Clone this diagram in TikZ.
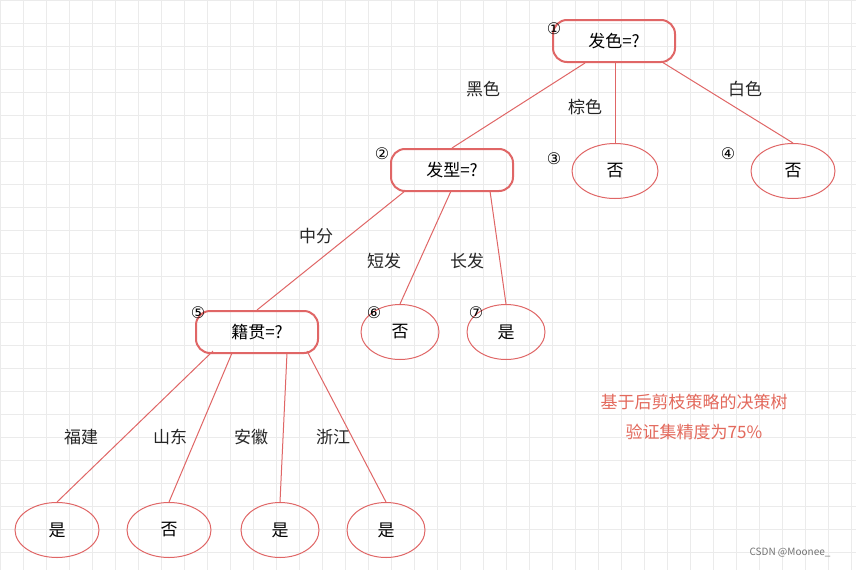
\documentclass[tikz,border=0pt]{standalone}
\usepackage{fontspec}
\setmainfont{Noto Sans CJK SC}
\newfontfamily\dv{DejaVu Sans}
\usetikzlibrary{shapes.geometric}
\definecolor{rd}{HTML}{E06666}
\begin{document}
\begin{tikzpicture}[x=1pt,y=-1pt,
 rbox/.style={draw=rd,line width=2pt,rounded corners=14pt,minimum width=122pt,minimum height=42pt,font=\fontsize{17}{17}\selectfont},
 ell/.style={draw=rd,line width=1pt,ellipse,minimum width=#1,minimum height=55pt,font=\fontsize{17}{17}\selectfont},
 ell/.default=82pt,
 lab/.style={font=\fontsize{17}{17}\selectfont,text=black!85},
 num/.style={font=\dv\fontsize{16}{16}\selectfont},
 ed/.style={draw=rd,line width=1pt}]
\useasboundingbox (0,0) rectangle (856,570);
\fill[white] (0,0) rectangle (856,570);
\draw[black!8,step=23pt] (0,0) grid (856,570);
\node[rbox] (n1) at (614,41) {发色=?};
\node[rbox] (n2) at (452,170) {发型=?};
\node[ell=86pt] (n3) at (615,171) {否};
\node[ell=84pt] (n4) at (793,171) {否};
\node[rbox] (n5) at (257,332) {籍贯=?};
\node[ell=78pt] (n6) at (400,332) {否};
\node[ell=78pt] (n7) at (506,332) {是};
\node[ell=84pt] (l1) at (57,530) {是};
\node[ell=84pt] (l2) at (169,530) {否};
\node[ell=78pt] (l3) at (280,530) {是};
\node[ell=78pt] (l4) at (386,530) {是};
\node[num] at (554,29) {①};
\node[num] at (382,154) {②};
\node[num] at (554,159) {③};
\node[num] at (728,154) {④};
\node[num] at (198,313) {⑤};
\node[num] at (374,313) {⑥};
\node[num] at (476,313) {⑦};
\coordinate (a1) at (585,63); \coordinate (a2) at (615,63); \coordinate (a3) at (662,62);
\coordinate (b1) at (405,191); \coordinate (b2) at (451,191); \coordinate (b3) at (490,191);
\coordinate (c1) at (213,351); \coordinate (c2) at (232,353); \coordinate (c3) at (287,353); \coordinate (c4) at (307,351);
\draw[ed] (a1) -- (n2.north); \draw[ed] (a2) -- (n3.north); \draw[ed] (a3) -- (n4.north);
\draw[ed] (b1) -- (n5.north); \draw[ed] (b2) -- (n6.north); \draw[ed] (b3) -- (n7.north);
\draw[ed] (c1) -- (l1.north); \draw[ed] (c2) -- (l2.north); \draw[ed] (c3) -- (l3.north); \draw[ed] (c4) -- (l4.north);
\node[lab] at (483,89) {黑色};
\node[lab] at (585,107) {棕色};
\node[lab] at (745,89) {白色};
\node[lab] at (316,236) {中分};
\node[lab] at (384,261) {短发};
\node[lab] at (467,261) {长发};
\node[lab] at (81,437) {福建};
\node[lab] at (170,437) {山东};
\node[lab] at (251,437) {安徽};
\node[lab] at (333,437) {浙江};
\node[font=\fontsize{17}{17}\selectfont,text=rd!90!orange] at (694,402) {基于后剪枝策略的决策树};
\node[font=\fontsize{17}{17}\selectfont,text=rd!90!orange] at (694,432) {验证集精度为75\%};
\node[font=\fontsize{10}{10}\selectfont,text=black!55] at (790,553) {CSDN @Moonee\_};
\end{tikzpicture}
\end{document}
